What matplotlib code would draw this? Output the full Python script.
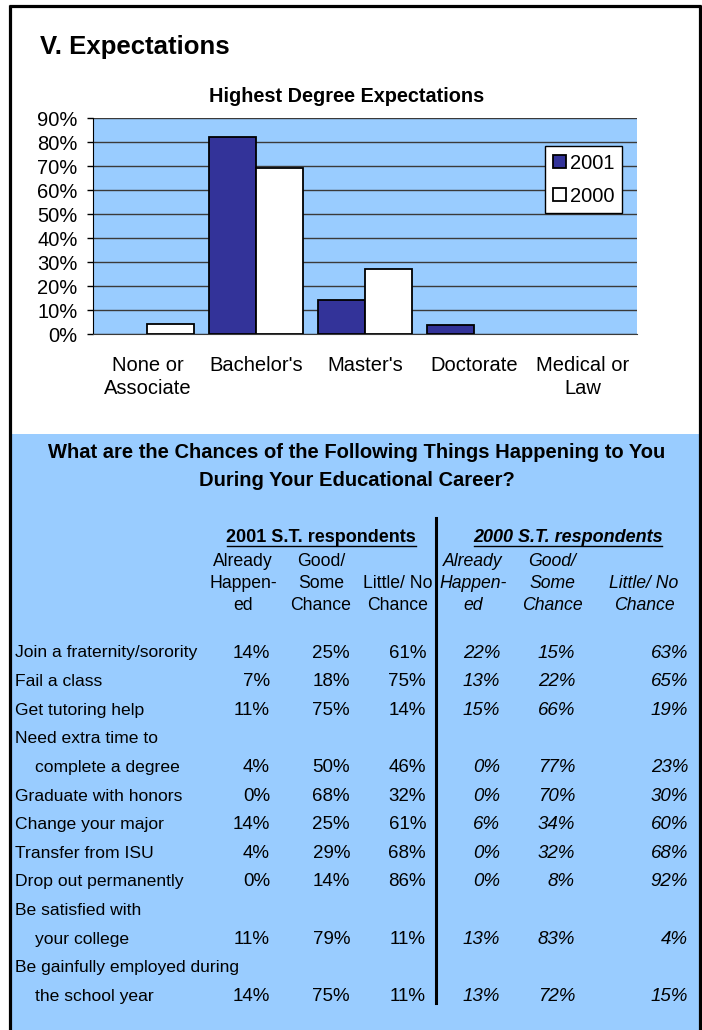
import matplotlib
matplotlib.use("Agg")
import matplotlib.pyplot as plt
from matplotlib.patches import Rectangle
import numpy as np

plt.rcParams['font.family'] = ['Liberation Sans', 'DejaVu Sans']

# ---------------- data ----------------
categories = ["None or\nAssociate", "Bachelor's", "Master's", "Doctorate", "Medical or\nLaw"]
series_2001 = [0, 82, 14, 3.6, 0]
series_2000 = [4, 69, 27, 0, 0]
yticks = [0, 10, 20, 30, 40, 50, 60, 70, 80, 90]

row_labels = ["Join a fraternity/sorority", "Fail a class", "Get tutoring help",
              "Need extra time to\ncomplete a degree", "Graduate with honors",
              "Change your major", "Transfer from ISU", "Drop out permanently",
              "Be satisfied with\nyour college",
              "Be gainfully employed during\nthe school year"]
already_2001 = [14, 7, 11, 4, 0, 14, 4, 0, 11, 14]
good_2001 = [25, 18, 75, 50, 68, 25, 29, 14, 79, 75]
little_2001 = [61, 75, 14, 46, 32, 61, 68, 86, 11, 11]
already_2000 = [22, 13, 15, 0, 0, 6, 0, 0, 13, 13]
good_2000 = [15, 22, 66, 77, 70, 34, 32, 8, 83, 72]
little_2000 = [63, 65, 19, 23, 30, 60, 68, 92, 4, 15]
col_headers = ["Already\nHappen-\ned", "Good/\nSome\nChance", "Little/ No\nChance"]

DARK = '#333399'
BLUE = '#99CCFF'

W, H = 702, 1030
fig = plt.figure(figsize=(W / 100, H / 100), dpi=100)

# overlay axes in pixel coordinates
ov = fig.add_axes([0, 0, 1, 1], zorder=0)
ov.set_xlim(0, W)
ov.set_ylim(H, 0)
ov.axis('off')

ov.add_patch(Rectangle((11, 434), 688, H - 434, facecolor=BLUE, edgecolor='none'))
ov.plot([9.5, 9.5], [5, H], color='black', lw=2.3, solid_capstyle='butt')
ov.plot([8.5, 700.5], [6, 6], color='black', lw=2.3, solid_capstyle='butt')
ov.plot([699.5, 699.5], [5, H], color='black', lw=2.3, solid_capstyle='butt')

ov.text(40, 47, "V. Expectations", fontsize=18.5, fontweight='bold', ha='left', va='center')
ov.text(347, 96, "Highest Degree Expectations", fontsize=14.3, fontweight='bold',
        ha='center', va='center')

# ---------------- bar chart ----------------
cfs = 14.5
ax = fig.add_axes([93 / W, 1 - 334 / H, (637 - 93) / W, (334 - 118) / H], zorder=1)
ax.set_facecolor(BLUE)
x = np.arange(len(categories))
bw = 0.43
lw01 = [1.3 if v > 0 else 0 for v in series_2001]
lw00 = [1.3 if v > 0 else 0 for v in series_2000]
ax.bar(x - bw / 2, series_2001, bw, color=DARK, edgecolor='black', linewidth=lw01,
       label='2001', zorder=3)
ax.bar(x + bw / 2, series_2000, bw, color='white', edgecolor='black', linewidth=lw00,
       label='2000', zorder=3)
ax.set_xlim(-0.5, len(categories) - 0.5)
ax.set_ylim(0, 90)
ax.set_yticks(yticks)
ax.set_yticklabels([f"{v}%" for v in yticks], fontsize=cfs)
ax.yaxis.grid(True, color='#3a3a3a', linewidth=1.0, zorder=0)
ax.set_axisbelow(True)
ax.set_xticks(x)
ax.set_xticklabels(categories, fontsize=cfs, linespacing=1.32)
ax.tick_params(axis='x', length=0, pad=15.5)
ax.tick_params(axis='y', length=4, width=1, direction='out', pad=7)
for s in ['top', 'right']:
    ax.spines[s].set_visible(False)
ax.spines['left'].set_color('black')
ax.spines['bottom'].set_color('#3a3a3a')
leg = ax.legend(loc='upper right', bbox_to_anchor=(0.9724, 0.870), fontsize=cfs,
                frameon=True, fancybox=False, framealpha=1, edgecolor='black',
                handlelength=0.65, handleheight=0.65, handletextpad=0.2,
                labelspacing=0.7, borderpad=0.38, borderaxespad=0)
leg.get_frame().set_linewidth(1.0)
for hnd in leg.legend_handles:
    hnd.set_edgecolor('black')
    hnd.set_linewidth(1.3)

# ---------------- table ----------------
ov.text(357, 452, "What are the Chances of the Following Things Happening to You",
        fontsize=14.5, fontweight='bold', ha='center', va='center')
ov.text(357, 480, "During Your Educational Career?",
        fontsize=14.5, fontweight='bold', ha='center', va='center')

ov.plot([436, 436], [518, 1003], color='black', lw=2.2)

hfs = 13
ov.text(321, 537, "2001 S.T. respondents", fontsize=hfs, fontweight='bold',
        ha='center', va='center')
ov.text(568, 537, "2000 S.T. respondents", fontsize=hfs, fontweight='bold',
        style='italic', ha='center', va='center')
ov.plot([227, 416], [546, 546], color='black', lw=1.0)
ov.plot([474, 662], [546, 546], color='black', lw=1.0)

cfs_hdr = 12.7
hdr_x_2001 = [243, 321, 398]
hdr_x_2000 = [473, 552, 644]
hdr_y = [562, 583, 605]
for j, hdr in enumerate(col_headers):
    lines = hdr.split("\n")
    offs = len(hdr_y) - len(lines)
    for k, ln in enumerate(lines):
        ov.text(hdr_x_2001[j], hdr_y[k + offs], ln, fontsize=cfs_hdr, ha='center', va='center')
        ov.text(hdr_x_2000[j], hdr_y[k + offs], ln, fontsize=cfs_hdr, ha='center', va='center',
                style='italic')

val_x_2001 = [270, 350, 426]
val_x_2000 = [500, 575, 688]
fs = 12.6
vfs = 13.5
row_y = 653
step = 28.6
for i, lab in enumerate(row_labels):
    lines = lab.split("\n")
    for k, ln in enumerate(lines):
        ov.text(15 if k == 0 else 35, row_y, ln, fontsize=fs, ha='left', va='center')
        if k < len(lines) - 1:
            row_y += step
    vals01 = [already_2001[i], good_2001[i], little_2001[i]]
    vals00 = [already_2000[i], good_2000[i], little_2000[i]]
    for j in range(3):
        ov.text(val_x_2001[j], row_y, f"{vals01[j]}%", fontsize=vfs, ha='right', va='center')
        ov.text(val_x_2000[j], row_y, f"{vals00[j]}%", fontsize=vfs, ha='right', va='center',
                style='italic')
    row_y += step

fig.savefig("out.png", dpi=100)
